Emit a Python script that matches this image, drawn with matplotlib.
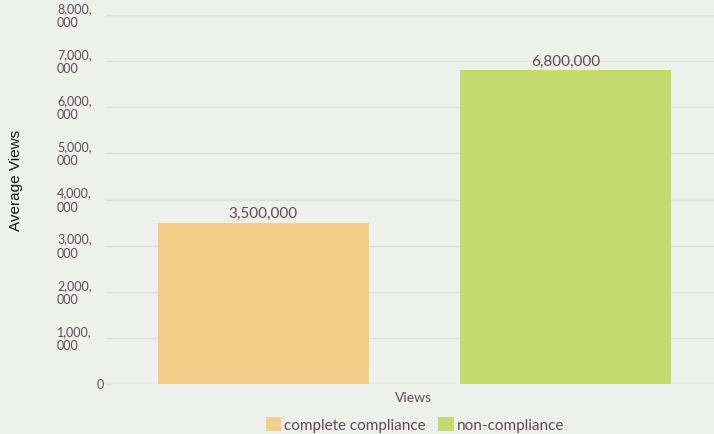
import matplotlib
matplotlib.use("Agg")
import matplotlib.pyplot as plt
from matplotlib.patches import Patch
from matplotlib.transforms import blended_transform_factory

categories = ["complete compliance", "non-compliance"]
values = [3500000, 6800000]
colors = ["#f2cf88", "#c6da6e"]
yticks = [0, 1000000, 2000000, 3000000, 4000000, 5000000, 6000000, 7000000, 8000000]
ytick_labels = ["0", "1,000,\n000", "2,000,\n000", "3,000,\n000", "4,000,\n000",
                "5,000,\n000", "6,000,\n000", "7,000,\n000", "8,000,\n000"]
x_label = "Views"
y_label = "Average Views"

bg = "#eef0ec"
txt = "#5c4a59"
W, H = 714, 435

fig = plt.figure(figsize=(W / 100, H / 100), dpi=100, facecolor=bg)
ax = fig.add_axes([110 / W, 1 - 385 / H, (W - 110) / W, (385 - 16) / H], facecolor=bg)

xs = list(range(len(categories)))
bars = ax.bar(xs, values, width=0.7, color=colors, zorder=3)
ax.set_xlim(-0.508, 1.492)
ax.set_ylim(0, 8000000)

for b, v in zip(bars, values):
    ax.text(b.get_x() + b.get_width() / 2, v + 60000, f"{v:,}", ha="center", va="bottom",
            fontsize=11, color=txt, family="Lato", zorder=4)

ax.set_yticks(yticks)
ax.set_yticklabels([])
ax.tick_params(axis="y", length=3, color="#d9dcd8", width=1)
ax.set_xticks([])
ax.grid(axis="y", color="#dfe1dd", lw=1, zorder=0)
for s in ax.spines.values():
    s.set_visible(False)

tr = blended_transform_factory(fig.transFigure, ax.transData)
for t, lab in zip(yticks, ytick_labels):
    if t == 0:
        ax.text(104 / W, t, lab, transform=tr, ha="right", va="center", fontsize=9,
                color=txt, family="Lato")
    else:
        ax.text(57 / W, t, lab, transform=tr, ha="left", va="center", fontsize=9,
                color=txt, family="Lato", linespacing=1.2)

fig.text(16 / W, 1 - 180 / H, y_label, rotation=90, ha="center", va="center",
         fontsize=11, color="#111111", family="Liberation Sans")
fig.text(413 / W, 1 - 398 / H, x_label, ha="center", va="center", fontsize=10,
         color=txt, family="Lato")

handles = [Patch(facecolor=c, edgecolor="none") for c in colors]
leg = fig.legend(handles, categories, loc="center", bbox_to_anchor=(415 / W, 1 - 425.5 / H),
                 ncol=2, frameon=False, handlelength=1.0, handleheight=1.0,
                 handletextpad=0.2, columnspacing=0.8, prop={"family": "Lato", "size": 11})
for t in leg.get_texts():
    t.set_color(txt)

fig.savefig("out.png", dpi=100, facecolor=bg)
